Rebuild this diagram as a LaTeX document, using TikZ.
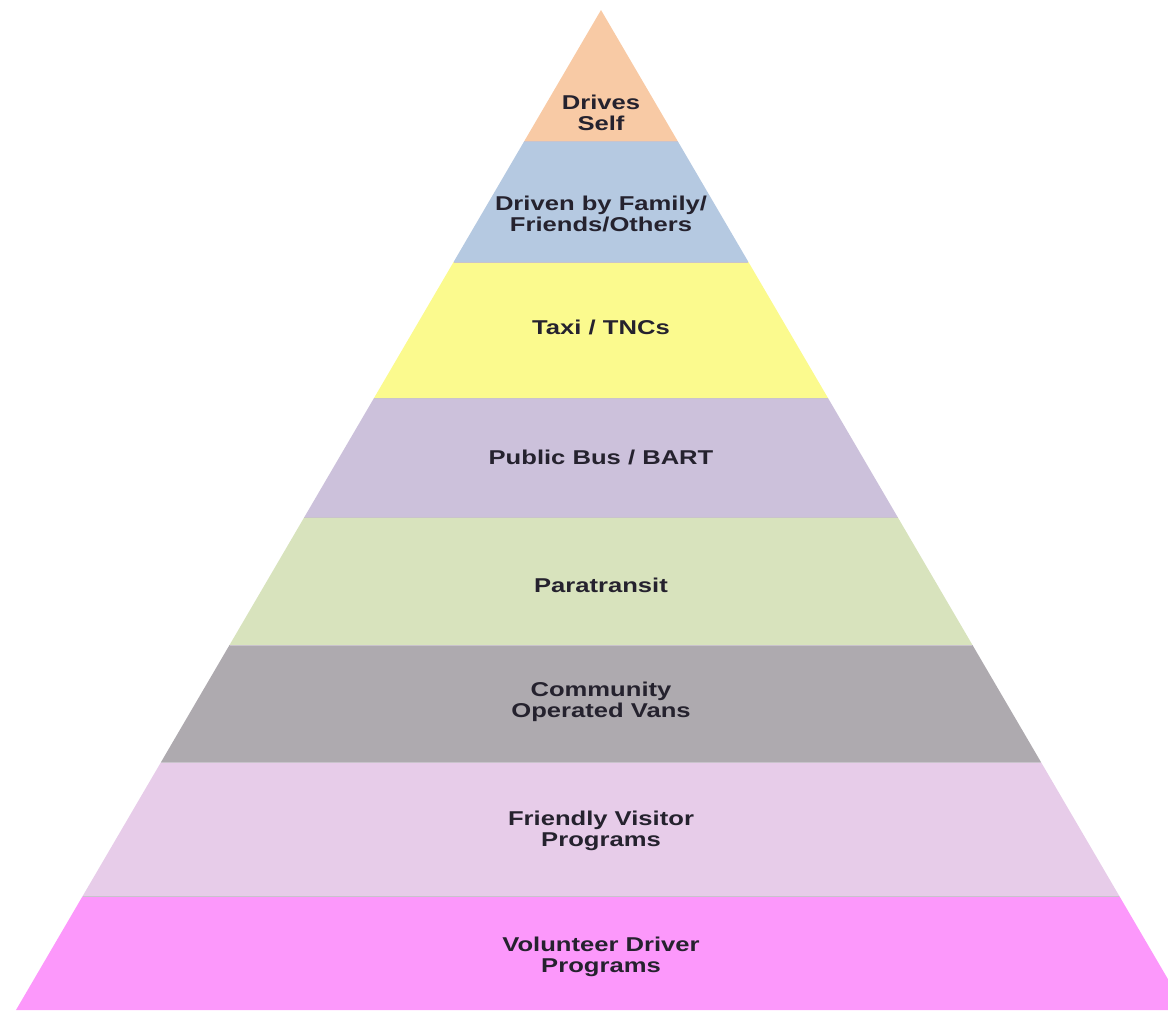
\documentclass[tikz,border=0pt]{standalone}
\usepackage{fontspec}
\setmainfont{Liberation Sans}
\usepackage{graphicx}
\definecolor{cPeach}{HTML}{F8CAA5}
\definecolor{cBlue}{HTML}{B5C9E1}
\definecolor{cYellow}{HTML}{FBFA8E}
\definecolor{cLav}{HTML}{CCC1DB}
\definecolor{cGreen}{HTML}{D8E3BD}
\definecolor{cGray}{HTML}{AEAAAF}
\definecolor{cPink}{HTML}{E7CCE9}
\definecolor{cMag}{HTML}{FC98FB}
\definecolor{txt}{HTML}{25222E}
\definecolor{sep}{HTML}{C9C3CC}
\newcommand\pband[3]{%
  \fill[#3] ({601-0.585*(#1-10)},#1) -- ({601+0.585*(#1-10)},#1)
    -- ({601+0.585*(#2-10)},#2) -- ({601-0.585*(#2-10)},#2) -- cycle;}
\newcommand\wideln[1]{\scalebox{1.28}[1]{#1}}
\begin{document}
\begin{tikzpicture}[x=1pt,y=-1pt,
  lbl/.style={font=\fontsize{20}{21}\selectfont\bfseries, text=txt, align=center, inner sep=0pt}]
\useasboundingbox (0,0) rectangle (1168,1010);
\clip (0,0) rectangle (1168,1010);
\pband{10}{141}{cPeach}
\pband{141}{262}{cBlue}
\pband{262}{398}{cYellow}
\pband{398}{517}{cLav}
\pband{517}{645}{cGreen}
\pband{645}{762}{cGray}
\pband{762}{896}{cPink}
\pband{896}{1010}{cMag}
\foreach \yy in {141,262,398,517,645,762,896}
  \draw[sep, line width=0.8pt] ({601-0.585*(\yy-10)},\yy) -- ({601+0.585*(\yy-10)},\yy);
\node[lbl] (l1) at (601,113) {\wideln{Drives}\\\wideln{Self}};
\node[lbl] (l2) at (601,214) {\wideln{Driven by Family/}\\\wideln{Friends/Others}};
\node[lbl] (l3) at (601,327) {\wideln{Taxi / TNCs}};
\node[lbl] (l4) at (601,457) {\wideln{Public Bus / BART}};
\node[lbl] (l5) at (601,585) {\wideln{Paratransit}};
\node[lbl] (l6) at (601,702) {\wideln{Community}\\\wideln{Operated Vans}};
\node[lbl] (l7) at (601,831) {\wideln{Friendly Visitor}\\\wideln{Programs}};
\node[lbl] (l8) at (601,957) {\wideln{Volunteer Driver}\\\wideln{Programs}};
\end{tikzpicture}
\end{document}
